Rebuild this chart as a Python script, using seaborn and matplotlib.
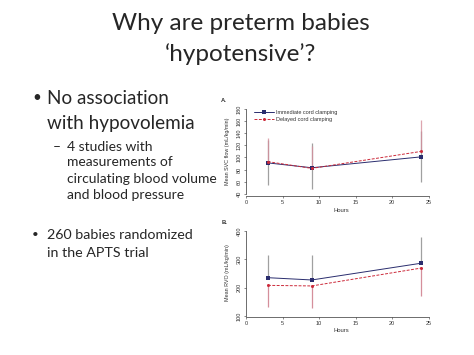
import numpy as np
import pandas as pd
import matplotlib
matplotlib.use("Agg")
import matplotlib.pyplot as plt
import seaborn as sns

# data
hours = [3, 9, 24]
groups = ["Immediate cord clamping", "Delayed cord clamping"]

svc_immediate = [91, 83, 101]
svc_immediate_lo = [54, 48, 59]
svc_immediate_hi = [128, 123, 143]
svc_delayed = [93, 82, 110]
svc_delayed_hi = [132, 118, 162]

rvo_immediate = [235, 227, 286]
rvo_immediate_hi = [315, 315, 377]
rvo_delayed = [208, 206, 269]
rvo_delayed_lo = [133, 127, 172]

title_lines = ["Why are preterm babies", "\u2018hypotensive\u2019?"]

sns.set_style("white")
plt.rcParams["font.family"] = ["Liberation Sans", "DejaVu Sans"]

NAVY = "#2a2d6e"
RED = "#cc2a3a"
GREY = "#a0a0a0"
PINK = "#d58f9b"

fig = plt.figure(figsize=(4.74, 3.55), dpi=100)


def make_df(imm, dly):
    return pd.DataFrame({
        "Hours": hours * 2,
        "value": imm + dly,
        "group": [groups[0]] * 3 + [groups[1]] * 3,
    })


def style_axes(ax, ylo, yhi, yticks, ylabel, letter):
    ax.set_xlim(0, 26)
    ax.set_ylim(ylo, yhi)
    ax.set_xticks([0, 5, 10, 15, 20, 25])
    ax.set_yticks(yticks)
    ax.spines["top"].set_visible(False)
    ax.spines["right"].set_visible(False)
    ax.spines["left"].set_bounds(yticks[0], yticks[-1])
    ax.spines["bottom"].set_bounds(0, 25)
    for s in ["left", "bottom"]:
        ax.spines[s].set_linewidth(0.5)
        ax.spines[s].set_color("#333333")
    ax.tick_params(axis="both", labelsize=4.0, length=1.5, width=0.4, pad=1.5,
                   colors="#333333", left=True, bottom=True)
    for lab in ax.get_yticklabels():
        lab.set_rotation(90)
        lab.set_va("center")
    ax.set_xlabel("Hours", fontsize=4.2, labelpad=1.5, color="#333333")
    ax.set_ylabel(ylabel, fontsize=3.9, labelpad=5, color="#333333")
    ax.text(-0.13, 1.04, letter, transform=ax.transAxes, fontsize=4.2,
            fontweight="bold", color="#333333", rotation=0)


# panel A
axA = fig.add_axes([0.519, 0.447, 0.401, 0.255])
axA.vlines(hours, svc_immediate_lo, svc_immediate_hi, color=GREY, lw=0.9, zorder=1)
axA.vlines(hours, svc_delayed, svc_delayed_hi, color=PINK, lw=0.9, alpha=0.8, zorder=1)
sns.lineplot(data=make_df(svc_immediate, svc_delayed), x="Hours", y="value",
             hue="group", style="group", palette=[NAVY, RED],
             dashes=[(None, None), (3, 1.5)], markers=["s", "o"],
             markersize=2.2, markeredgewidth=0, lw=0.7, ax=axA, zorder=3)
style_axes(axA, 36, 185, [40, 60, 80, 100, 120, 140, 160, 180],
           "Mean SVC flow (mL/kg/min)", "A.")
leg = axA.legend(loc="upper left", bbox_to_anchor=(0.02, 1.0), frameon=False,
                 fontsize=4.0, handlelength=3.6, handletextpad=0.4,
                 labelspacing=0.45, borderaxespad=0.3)
for t in leg.get_texts():
    t.set_color("#333333")

# panel B
axB = fig.add_axes([0.519, 0.108, 0.401, 0.250])
axB.vlines(hours, rvo_immediate, rvo_immediate_hi, color=GREY, lw=0.9, zorder=1)
axB.vlines(hours, rvo_delayed_lo, rvo_delayed, color=PINK, lw=0.9, zorder=1)
sns.lineplot(data=make_df(rvo_immediate, rvo_delayed), x="Hours", y="value",
             hue="group", style="group", palette=[NAVY, RED],
             dashes=[(None, None), (3, 1.5)], markers=["s", "o"],
             markersize=2.2, markeredgewidth=0, lw=0.7, ax=axB, zorder=3,
             legend=False)
style_axes(axB, 98, 410, [100, 200, 300, 400], "Mean RVO (mL/kg/min)", "B.")

# slide text
title_font = ["Lato", "DejaVu Sans"]
fig.text(0.508, 1 - 23 / 355, title_lines[0], ha="center", va="center",
         fontsize=17.5, family=title_font)
fig.text(0.508, 1 - 54 / 355, title_lines[1], ha="center", va="center",
         fontsize=17.5, family=title_font)

body = [
    (32, 47, 98, "\u2022", "No association", 13.6),
    (None, 47, 124, None, "with hypovolemia", 13.6),
    (53, 67, 147, "\u2013", "4 studies with", 10.0),
    (None, 67, 162, None, "measurements of", 10.0),
    (None, 67, 179, None, "circulating blood volume", 10.0),
    (None, 67, 194.5, None, "and blood pressure", 10.0),
    (32, 47, 235, "\u2022", "260 babies randomized", 10.3),
    (None, 47, 253, None, "in the APTS trial", 10.3),
]
for bx, tx, y, mark, txt, fs in body:
    if mark:
        fig.text(bx / 474, 1 - y / 355, mark, ha="left", va="center",
                 fontsize=fs * 0.8 if mark == "\u2022" else fs,
                 family=title_font)
    fig.text(tx / 474, 1 - y / 355, txt, ha="left", va="center",
             fontsize=fs, family=title_font)

fig.savefig("out.png", dpi=100)
